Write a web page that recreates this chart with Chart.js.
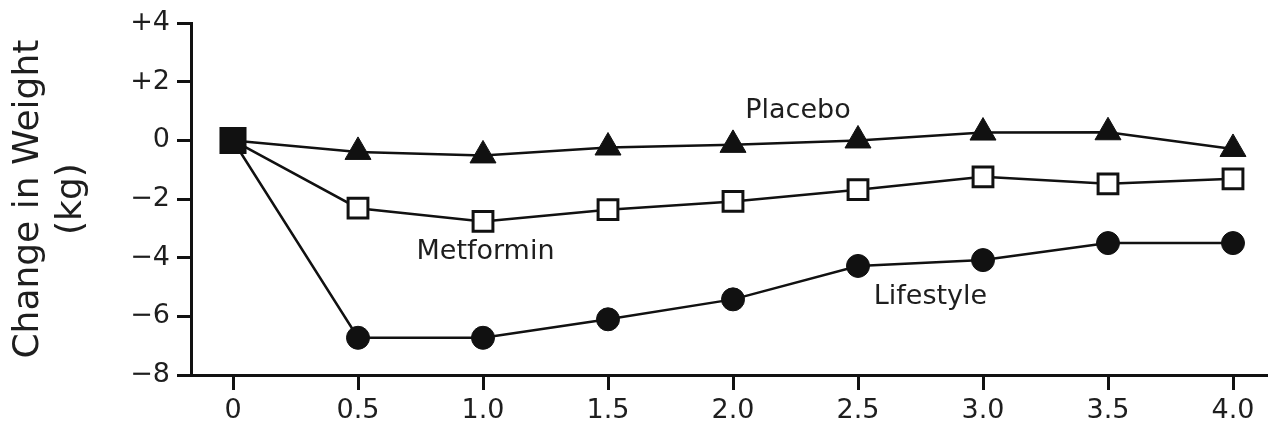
<!DOCTYPE html>
<html>
<head>
<meta charset="utf-8">
<script src="https://cdn.jsdelivr.net/npm/chart.js@4"></script>
<style>
  html, body { margin: 0; padding: 0; background: #fff; overflow: hidden; }
  #wrap { width: 1268px; height: 426px; position: relative; }
</style>
</head>
<body>
<div id="wrap"><canvas id="chart"></canvas></div>
<script>
const years = [0, 0.5, 1.0, 1.5, 2.0, 2.5, 3.0, 3.5, 4.0];
const xTickLabels = ['0', '0.5', '1.0', '1.5', '2.0', '2.5', '3.0', '3.5', '4.0'];
const yTickValues = [-8, -6, -4, -2, 0, 2, 4];
const yTickLabels = ['\u22128', '\u22126', '\u22124', '\u22122', '0', '+2', '+4'];

const placebo = [0, -0.39, -0.51, -0.24, -0.15, 0, 0.27, 0.28, -0.29];
const metformin = [0, -2.31, -2.76, -2.36, -2.08, -1.68, -1.24, -1.48, -1.31];
const lifestyle = [0, -6.73, -6.73, -6.1, -5.42, -4.28, -4.08, -3.5, -3.5];

const seriesNames = ['Placebo', 'Metformin', 'Lifestyle'];
// where each name sits, in data units
const nameX = [2.26, 1.01, 2.79];
const nameY = [1.0, -3.8, -5.35];

const ink = '#111';
const textInk = '#1e1e1e';
const fontFamily = '"DejaVu Sans", sans-serif';

const toPoints = (values) => values.map((v, i) => ({ x: years[i], y: v }));

// first point of every curve is the shared filled square at baseline
const startSquare = (other, otherRadius, otherFill) => ({
    pointStyle: (ctx) => (ctx.dataIndex === 0 ? 'rect' : other),
    pointRadius: (ctx) => (ctx.dataIndex === 0 ? 17 : otherRadius),
    pointBackgroundColor: (ctx) => (ctx.dataIndex === 0 ? ink : otherFill),
});

const seriesLabelsPlugin = {
    id: 'seriesLabels',
    afterDatasetsDraw(chart) {
        const { ctx, scales } = chart;
        ctx.save();
        ctx.font = `27px ${fontFamily}`;
        ctx.fillStyle = textInk;
        ctx.textAlign = 'center';
        ctx.textBaseline = 'middle';
        seriesNames.forEach((name, i) => {
            ctx.fillText(name, scales.x.getPixelForValue(nameX[i]), scales.y.getPixelForValue(nameY[i]));
        });
        ctx.restore();
    },
};

new Chart(document.getElementById('chart'), {
    type: 'line',
    data: {
        datasets: [
            {
                label: 'Lifestyle',
                data: toPoints(lifestyle),
                borderColor: ink,
                borderWidth: 2.5,
                pointBorderColor: ink,
                pointBorderWidth: 1,
                ...startSquare('circle', 11.5, ink),
            },
            {
                label: 'Metformin',
                data: toPoints(metformin),
                borderColor: ink,
                borderWidth: 2.5,
                pointBorderColor: ink,
                pointBorderWidth: 3,
                ...startSquare('rect', 14, '#fff'),
            },
            {
                label: 'Placebo',
                data: toPoints(placebo),
                borderColor: ink,
                borderWidth: 2.5,
                pointBorderColor: ink,
                pointBorderWidth: 1,
                ...startSquare('triangle', 15, ink),
            },
        ],
    },
    options: {
        responsive: true,
        maintainAspectRatio: false,
        animation: false,
        layout: {
            autoPadding: false,
            padding: { top: 20, right: 0, bottom: 0, left: 0 },
        },
        plugins: {
            legend: { display: false },
            tooltip: { enabled: false },
        },
        scales: {
            x: {
                type: 'linear',
                min: -0.168,
                max: 4.14,
                afterBuildTicks: (scale) => {
                    scale.ticks = years.map((v) => ({ value: v }));
                },
                afterFit: (scale) => {
                    scale.height = 51;
                    scale.paddingLeft = 0;
                    scale.paddingRight = 0;
                },
                ticks: {
                    color: textInk,
                    font: { family: fontFamily, size: 27 },
                    padding: 5,
                    maxRotation: 0,
                    autoSkip: false,
                    callback: (value) => xTickLabels[years.indexOf(value)],
                },
                grid: {
                    display: true,
                    drawOnChartArea: false,
                    drawTicks: true,
                    tickLength: 15,
                    tickWidth: 3,
                    tickColor: ink,
                    color: ink,
                },
                border: { display: true, color: ink, width: 3 },
            },
            y: {
                min: -8,
                max: 4,
                afterBuildTicks: (scale) => {
                    scale.ticks = yTickValues.map((v) => ({ value: v }));
                },
                afterFit: (scale) => {
                    scale.width = 191;
                },
                ticks: {
                    color: textInk,
                    font: { family: fontFamily, size: 27 },
                    padding: 7,
                    autoSkip: false,
                    callback: (value) => yTickLabels[yTickValues.indexOf(value)],
                },
                grid: {
                    display: true,
                    drawOnChartArea: false,
                    drawTicks: true,
                    tickLength: 14,
                    tickWidth: 3,
                    tickColor: ink,
                    color: ink,
                },
                border: { display: true, color: ink, width: 3 },
                title: {
                    display: true,
                    text: ['Change in Weight', '(kg)'],
                    color: textInk,
                    font: { family: fontFamily, size: 36, lineHeight: 1.2 },
                    padding: { top: 7, bottom: 0 },
                },
            },
        },
    },
    plugins: [seriesLabelsPlugin],
});
</script>
</body>
</html>
